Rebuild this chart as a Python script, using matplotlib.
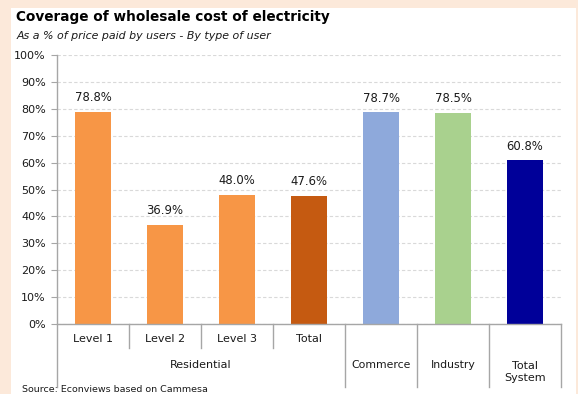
import matplotlib.pyplot as plt
from matplotlib.patches import Rectangle
from matplotlib.ticker import MultipleLocator, FuncFormatter

# datos
categorias = ['Level 1', 'Level 2', 'Level 3', 'Total', 'Commerce', 'Industry', 'Total\nSystem']
valores = [78.8, 36.9, 48.0, 47.6, 78.7, 78.5, 60.8]
colores = ['#F79646', '#F79646', '#F79646', '#C55A11', '#8EA9DB', '#A9D18E', '#000099']
grupo = 'Residential'
n_residencial = 4

titulo = 'Coverage of wholesale cost of electricity'
subtitulo = 'As a % of price paid by users - By type of user'
fuente = 'Source: Econviews based on Cammesa'

plt.rcParams['font.family'] = 'DejaVu Sans'
gris = '#A6A6A6'
texto = '#1A1A1A'

fig = plt.figure(figsize=(5.78, 3.94), dpi=100)
fig.patch.set_facecolor('#FCE9DA')
fig.patches.append(Rectangle((11 / 578, 0), 565 / 578, 386 / 394,
                             transform=fig.transFigure, facecolor='white',
                             edgecolor='none', zorder=-10))

ax = fig.add_axes([57 / 578, 70 / 394, 504 / 578, 269 / 394])
ax.set_facecolor('none')

x = list(range(len(categorias)))
ax.bar(x, valores, width=0.49, color=colores, zorder=3)

for xi, v in zip(x, valores):
    ax.text(xi, v + 2.8, f'{v:.1f}%', ha='center', va='bottom',
            fontsize=8.4, color=texto)

ax.set_xlim(-0.5, len(categorias) - 0.5)
ax.set_ylim(0, 100)
ax.yaxis.set_major_locator(MultipleLocator(10))
ax.yaxis.set_major_formatter(FuncFormatter(lambda v, p: f'{v:.0f}%'))
ax.tick_params(axis='y', length=4, color=gris, labelsize=8, labelcolor=texto, pad=4)
ax.set_xticks([])
ax.grid(axis='y', color='#D9D9D9', linestyle=(0, (3, 2)), linewidth=0.8, zorder=0)

for lado in ['top', 'right', 'bottom', 'left']:
    ax.spines[lado].set_visible(False)

# ejes dibujados a mano
trans = ax.get_xaxis_transform()
ax.plot([-0.5, len(categorias) - 0.5], [0, 0], transform=trans, color=gris,
        lw=1, clip_on=False, zorder=4)
ax.plot([-0.5, -0.5], [1, -0.234], transform=trans, color=gris, lw=1, clip_on=False)

for i in range(1, len(categorias) + 1):
    b = i - 0.5
    bajo = -0.089 if i < n_residencial else -0.234
    ax.plot([b, b], [0, bajo], transform=trans, color=gris, lw=1, clip_on=False)

for i, cat in enumerate(categorias):
    if i < n_residencial:
        ax.text(i, -0.056, cat, transform=trans, ha='center', va='center',
                fontsize=8, color=texto)
    elif '\n' in cat:
        ax.text(i, -0.178, cat, transform=trans, ha='center', va='center',
                fontsize=8, color=texto, linespacing=1.3)
    else:
        ax.text(i, -0.152, cat, transform=trans, ha='center', va='center',
                fontsize=7.8, color=texto)

ax.text((n_residencial - 1) / 2, -0.152, grupo, transform=trans, ha='center',
        va='center', fontsize=8, color=texto)

fig.text(16 / 578, 1 - 17 / 394, titulo, fontsize=9.8, fontweight='bold',
         ha='left', va='center', color='black')
fig.text(17 / 578, 1 - 36 / 394, subtitulo, fontsize=7.9, style='italic',
         ha='left', va='center', color=texto)
fig.text(22 / 578, 1 - 389 / 394, fuente, fontsize=6.8, ha='left', va='center',
         color=texto)

fig.savefig('out.png', dpi=100, facecolor=fig.get_facecolor())
